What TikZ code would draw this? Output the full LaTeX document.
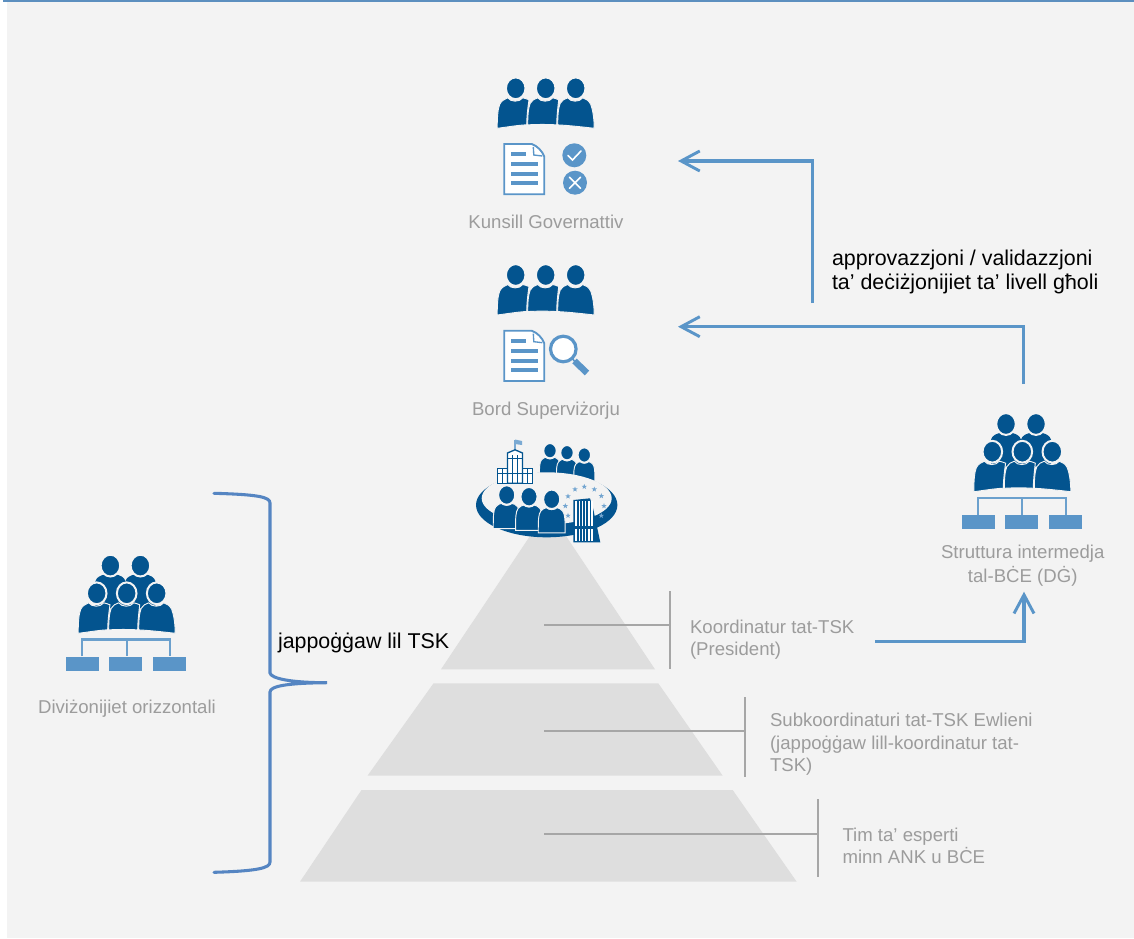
\documentclass[tikz,border=0pt]{standalone}
\usepackage{fontspec}
\setmainfont{Liberation Sans}
\usetikzlibrary{arrows.meta}
\definecolor{bgpanel}{HTML}{F3F3F3}
\definecolor{navy}{HTML}{03548F}
\definecolor{midblue}{HTML}{5A95C8}
\definecolor{bracecol}{HTML}{5585C2}
\definecolor{topline}{HTML}{5C8FBF}
\definecolor{pyr}{HTML}{DEDEDE}
\definecolor{greyline}{HTML}{A6A6A6}
\definecolor{greytext}{HTML}{9C9C9C}
\tikzset{
  x=0.75pt,y=-0.75pt,
  lab/.style={anchor=base west,inner sep=0pt,outer sep=0pt,font=\fontsize{13.95pt}{16pt}\selectfont,text=greytext},
  labc/.style={lab,anchor=base},
  blk/.style={lab,text=black,font=\fontsize{16.05pt}{18pt}\selectfont},
  flow/.style={draw=midblue,line width=2.4pt,-{Straight Barb[length=14pt,width=15pt,line width=2.2pt]}},
  greyrule/.style={draw=greyline,line width=1.5pt},
  halo/.style={fill=navy,draw=bgpanel,line width=.7pt},
  headhalo/.style={fill=navy,draw=bgpanel,line width=1.5pt},
  pics/person/.style={code={
    \path[halo] (-16,40) .. controls (-16,25) and (-16,18) .. (-13,14) .. controls (-11,11) and (-8,10.5) .. (-6,10)
      .. controls (-3,13) and (3,13) .. (6,10) .. controls (8,10.5) and (11,11) .. (13,14) .. controls (16,18) and (16,25) .. (16,40) -- cycle;
    \path[headhalo] (0,0) ellipse [x radius=10.2,y radius=11.6];
  }},
  pics/threepeople/.style={code={
    \path[halo] (-48.5,0) .. controls (-48.5,-10) and (-48,-19) .. (-46,-24) .. controls (-44,-28) and (-41,-29) .. (-38,-30.5)
      .. controls (-35,-26) and (-26,-26) .. (-23,-30.5) .. controls (-21,-30) and (-19,-29.5) .. (-16.7,-28.5) .. controls (-18,-20) and (-19,-10) .. (-19,-3.5)
      .. controls (-29,-3) and (-40,-1) .. (-48.5,0) -- cycle;
    \path[halo] (-18,-3.4) .. controls (-18,-12) and (-17.5,-20) .. (-15.5,-25) .. controls (-14,-28) and (-11,-29.5) .. (-8,-30.5)
      .. controls (-5,-26) and (4,-26) .. (7,-30.5) .. controls (9,-30) and (11,-29.5) .. (13,-28.5) .. controls (12,-20) and (11,-10) .. (11,-3.4)
      .. controls (3,-4) and (-10,-4) .. (-18,-3.4) -- cycle;
    \path[halo] (12,-3.4) .. controls (12,-12) and (12.5,-20) .. (14.5,-25) .. controls (16,-28) and (19,-29.5) .. (22,-30.5)
      .. controls (25,-26) and (34,-26) .. (37,-30.5) .. controls (40,-29.5) and (43,-28) .. (45,-24) .. controls (47,-19) and (48.5,-10) .. (48.5,0)
      .. controls (40,-1) and (22,-3) .. (12,-3.4) -- cycle;
    \foreach \hx in {-30,0,30} {
      \path[headhalo] (\hx,-40) ellipse [x radius=9.8,y radius=10.9];
    }
  }},
  pics/fivepeople/.style={code={
    \foreach \bx in {-16.3,13.7} {
      \path[fill=navy] (\bx-15,-52) .. controls (\bx-14,-56) and (\bx-10,-58) .. (\bx-5,-59) -- (\bx+5,-59)
        .. controls (\bx+10,-58) and (\bx+14,-56) .. (\bx+15,-52) -- (\bx+15,-25) -- (\bx-15,-25) -- cycle;
      \path[headhalo] (\bx,-67.7) ellipse [x radius=9.8,y radius=10.9];
    }
    \pic {threepeople};
  }},
  pics/orgchart/.style={code={
    \draw[draw=midblue!90!white,line width=1.7pt] (-44.6,23) -- (-44.6,6.2) -- (43.4,6.2) -- (43.4,23);
    \draw[draw=midblue!90!white,line width=1.7pt] (0,6.2) -- (0,23);
    \fill[midblue] (-60.3,23.3) rectangle (-27.3,37.3);
    \fill[midblue] (-17.3,23.3) rectangle (15.7,37.3);
    \fill[midblue] (26.7,23.3) rectangle (59.7,37.3);
  }},
  pics/docicon/.style={code={
    \draw[fill=white,draw=midblue,line width=1.4pt] (0,0) -- (27.4,0) .. controls (33,2) and (38,7) .. (40,12.7) -- (40,50.3) -- (0,50.3) -- cycle;
    \draw[fill=white,draw=midblue,line width=1pt] (29,3) -- (29.5,11) -- (38,12);
    \fill[midblue] (6.7,8) rectangle (21.7,12);
    \fill[midblue] (6.7,18) rectangle (33.7,22);
    \fill[midblue] (6.7,28) rectangle (33.7,32);
    \fill[midblue] (6.7,37) rectangle (33.7,41);
  }},
  pics/starmark/.style={code={
    \fill[midblue!85!white] (0,-2.8) -- (.7,-.9) -- (2.7,-.9) -- (1.1,.35) -- (1.7,2.3) -- (0,1.1) -- (-1.7,2.3) -- (-1.1,.35) -- (-2.7,-.9) -- (-.7,-.9) -- cycle;
  }}
}
\begin{document}
\begin{tikzpicture}
\useasboundingbox (0,0) rectangle (1134,938);
\fill[white] (0,0) rectangle (1134,938);
\fill[bgpanel] (7,0) rectangle (1134,938);
\fill[topline] (3,0) rectangle (1134,1.6);

% pyramid
\fill[pyr] (548,509) -- (655,669.3) -- (441,669.3) -- cycle;
\fill[pyr] (433.5,683.3) -- (658.3,683.3) -- (722.7,775.7) -- (367.5,775.7) -- cycle;
\fill[pyr] (361.5,790) -- (732.7,790) -- (796.7,881.7) -- (300,881.7) -- cycle;

% grey leaders
\coordinate (ruleA) at (544,624.5);
\coordinate (barA1) at (669.7,591);
\coordinate (barA2) at (669.7,668.7);
\coordinate (ruleB) at (544,731.3);
\coordinate (barB1) at (745,697.3);
\coordinate (barB2) at (745,777);
\coordinate (ruleC) at (544,834);
\coordinate (barC1) at (818,799);
\coordinate (barC2) at (818,876.7);
\draw[greyrule] (barA1) -- (barA2);
\draw[greyrule] (ruleA) -- (ruleA -| barA1);
\draw[greyrule] (barB1) -- (barB2);
\draw[greyrule] (ruleB) -- (ruleB -| barB1);
\draw[greyrule] (barC1) -- (barC2);
\draw[greyrule] (ruleC) -- (ruleC -| barC1);

% people and icons
\pic at (545.7,128.3) {threepeople};
\pic at (504.3,144) {docicon};
\fill[midblue] (574.3,155.3) circle [radius=12];
\draw[white,line width=1.2pt,line cap=round] (568,155.5) -- (572.5,160) -- (581,151);
\fill[midblue] (575,182.7) circle [radius=12];
\draw[white,line width=1.2pt,line cap=round] (569.5,177.2) -- (580.5,188.2) (580.5,177.2) -- (569.5,188.2);

\pic at (545.7,315) {threepeople};
\pic at (504.3,330.7) {docicon};
\draw[midblue,line width=2.4pt,fill=white] (563.3,349) circle [radius=12.8];
\draw[midblue,line width=1.2pt] (572,358) -- (575,362);
\draw[midblue,line width=4.8pt] (574.5,361) -- (587,373);

\pic at (1022.3,491.7) {fivepeople};
\pic at (1022.3,491.7) {orgchart};
\pic at (126.7,633.3) {fivepeople};
\pic at (126.7,633.3) {orgchart};

% table emblem
\pic[scale=.66] at (550,450.7) {person};
\pic[scale=.66] at (567,452.7) {person};
\pic[scale=.66] at (584.3,455) {person};
\fill[navy] (546.7,505) ellipse [x radius=70.7,y radius=32.3];
\fill[bgpanel] (546.7,498.3) ellipse [x radius=65,y radius=26];
\pic[scale=.84] at (506.7,495) {person};
\pic[scale=.84] at (529,496.7) {person};
\pic[scale=.84] at (551.7,499.3) {person};
\foreach \sx/\sy in {575/489.3,584.3/486.7,594.3/489.3,601.3/496,604/506,601.3/515.7,568/496.3,565.3/506,568/515.7} {
  \pic at (\sx,\sy) {starmark};
}
% building
\draw[midblue!80!white,line width=.9pt] (515,450) -- (515,439.5);
\fill[midblue!80!white] (515,439.5) -- (522,441) -- (522,445) -- (515,444) -- cycle;
\draw[fill=white,draw=navy,line width=1pt] (497.5,468.8) rectangle (532.5,483.3);
\draw[fill=white,draw=navy,line width=1pt] (507.5,453) -- (515,449.8) -- (522.5,453) -- (522.5,483.3) -- (507.5,483.3) -- cycle;
\draw[navy,line width=.7pt] (512.5,455) -- (512.5,483) (517.5,455) -- (517.5,483) (507.5,458) -- (522.5,458) (497.5,473.5) -- (532.5,473.5) (502.5,469) -- (502.5,483) (527.5,469) -- (527.5,483);
% tower
\fill[navy] (573.3,542.3) -- (573.3,500) -- (590,498.3) -- (593,508) -- (600.3,542.3) -- cycle;
\foreach \tx in {575.3,578.5,581.7,584.9,588.1,591.3} {
  \fill[white] (\tx,501) rectangle (\tx+1.5,526);
  \fill[white] (\tx,529) rectangle (\tx+1.5,540.5);
}

% brace
\draw[bracecol,line width=2.3pt,line cap=round] (214,493.3) .. controls (258,494.5) and (270,497) .. (270,503) -- (270,673)
  .. controls (271,678) and (288,682.7) .. (327,682.7) .. controls (288,683) and (270,686) .. (270,692) -- (270,862)
  .. controls (270,868) and (258,871) .. (214,872.3);

% labels
\node[labc] (kunsill) at (546,228.2) {Kunsill Governattiv};
\node[labc] (bord) at (546,415.8) {Bord Superviżorju};
\node[labc] (strut1) at (1022.7,558.2) {Struttura intermedja};
\node[labc] (strut2) at (1022.7,582.5) {tal-BĊE (DĠ)};
\node[labc] (div) at (127,713.2) {Diviżonijiet orizzontali};
\node[lab] (koord1) at (690,633.2) {Koordinatur tat-TSK};
\node[lab] (koord2) at (690,655.5) {(President)};
\node[lab] (sub1) at (770,726.5) {Subkoordinaturi tat-TSK Ewlieni};
\node[lab] (sub2) at (770,749.8) {(jappoġġaw lill-koordinatur tat-};
\node[lab] (sub3) at (770,771.5) {TSK)};
\node[lab] (tim1) at (842.5,841.5) {Tim ta’ esperti};
\node[lab] (tim2) at (842.5,863.8) {minn ANK u BĊE};
\node[blk] (jap) at (278,648) {jappoġġaw lil TSK};
\node[blk] (app1) at (832,265) {approvazzjoni / validazzjoni};
\node[blk] (app2) at (832,289.3) {ta’ deċiżjonijiet ta’ livell għoli};

% flow arrows
\coordinate (govIn) at (678,161);
\coordinate (bordIn) at (678,326.7);
\coordinate (valStart) at (812.7,303);
\coordinate (dgOut) at (1023.3,384);
\coordinate (presOut) at (875,641.3);
\coordinate (dgIn) at (1024,591.7);
\draw[flow] (valStart) |- (govIn);
\draw[flow] (dgOut) |- (bordIn);
\draw[flow] (presOut) -| (dgIn);
\end{tikzpicture}
\end{document}
